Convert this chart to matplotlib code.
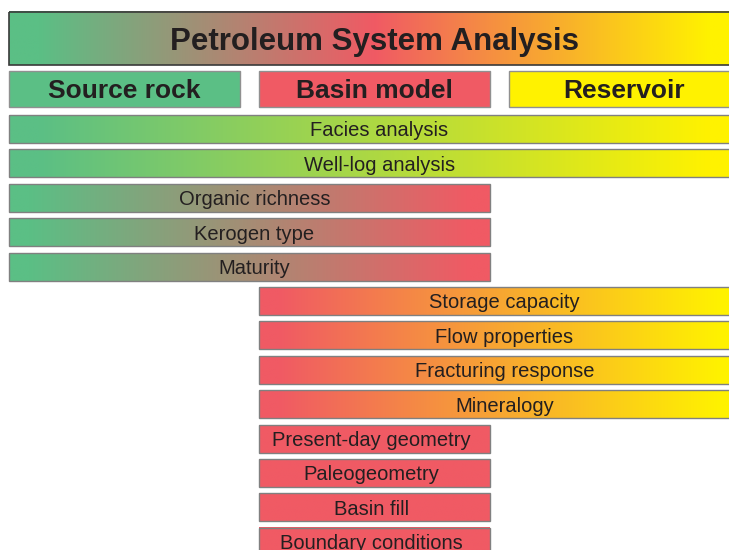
import numpy as np
import matplotlib
matplotlib.use('Agg')
import matplotlib.pyplot as plt
from matplotlib.colors import LinearSegmentedColormap
from matplotlib.patches import Rectangle

plt.rcParams['font.family'] = ['Liberation Sans', 'DejaVu Sans']

# 데이터: 각 항목이 걸치는 열 (0=Source rock, 1=Basin model, 2=Reservoir)
title = 'Petroleum System Analysis'
columns = ['Source rock', 'Basin model', 'Reservoir']
col_colors = ['#5bbf85', '#f05a64', '#fff200']

items = ['Facies analysis', 'Well-log analysis', 'Organic richness', 'Kerogen type',
         'Maturity', 'Storage capacity', 'Flow properties', 'Fracturing response',
         'Mineralogy', 'Present-day geometry', 'Paleogeometry', 'Basin fill',
         'Boundary conditions']
start_col = [0, 0, 0, 0, 0, 1, 1, 1, 1, 1, 1, 1, 1]
end_col = [2, 2, 1, 1, 1, 2, 2, 2, 2, 1, 1, 1, 1]

# 레이아웃 (열 단위 / 행 단위)
col_w = 231 / 250
row_h = 28 / 34.4
text_c = '#231f20'


def gradient(ax, x0, x1, y0, y1, colors, edge='#808080', lw=1.0):
    if len(colors) == 1:
        colors = [colors[0], colors[0]]
    stops = np.linspace(0.04, 0.96, len(colors))
    cl = [(0.0, colors[0])] + list(zip(stops, colors)) + [(1.0, colors[-1])]
    cmap = LinearSegmentedColormap.from_list('g', cl)
    grad = np.linspace(0, 1, 256).reshape(1, -1)
    ax.imshow(grad, cmap=cmap, aspect='auto', extent=[x0, x1, y1, y0],
              interpolation='bilinear', zorder=1)
    ax.add_patch(Rectangle((x0, y0), x1 - x0, y1 - y0, fill=False,
                           edgecolor=edge, linewidth=lw, zorder=2))


fig = plt.figure(figsize=(7.29, 5.5), dpi=100)
ax = fig.add_axes([0, 0, 1, 1])

# 제목 막대
gradient(ax, 0, 2 + col_w, -2.994, -1.453, col_colors, edge='#3a3a3a', lw=1.2)
ax.text((2 + col_w) / 2, (-2.994 - 1.453) / 2, title, ha='center',
        va='center_baseline', fontsize=22.5, fontweight='bold', color=text_c, zorder=3)

# 열 머리
for c, name in enumerate(columns):
    ax.add_patch(Rectangle((c, -1.279), col_w, 1.046, facecolor=col_colors[c],
                           edgecolor='#909090', linewidth=1.0, zorder=2))
    ax.text(c + col_w / 2, -1.279 + 1.046 / 2, name, ha='center',
            va='center_baseline', fontsize=19, fontweight='bold', color=text_c, zorder=3)

# 항목 막대
for i, name in enumerate(items):
    s, e = start_col[i], end_col[i]
    x0, x1 = s, e + col_w
    gradient(ax, x0, x1, i, i + row_h, [col_colors[s], col_colors[e]])
    dx = 0.02 if s != e else -0.012
    ax.text((x0 + x1) / 2 + dx, i + row_h / 2, name, ha='center',
            va='center_baseline', fontsize=14.5, color=text_c, zorder=3)

ax.set_xlim(-9 / 250, 720 / 250)
ax.set_ylim((550 - 115) / 34.4, (0 - 115) / 34.4)
ax.axis('off')

fig.savefig('out.png', dpi=100)
